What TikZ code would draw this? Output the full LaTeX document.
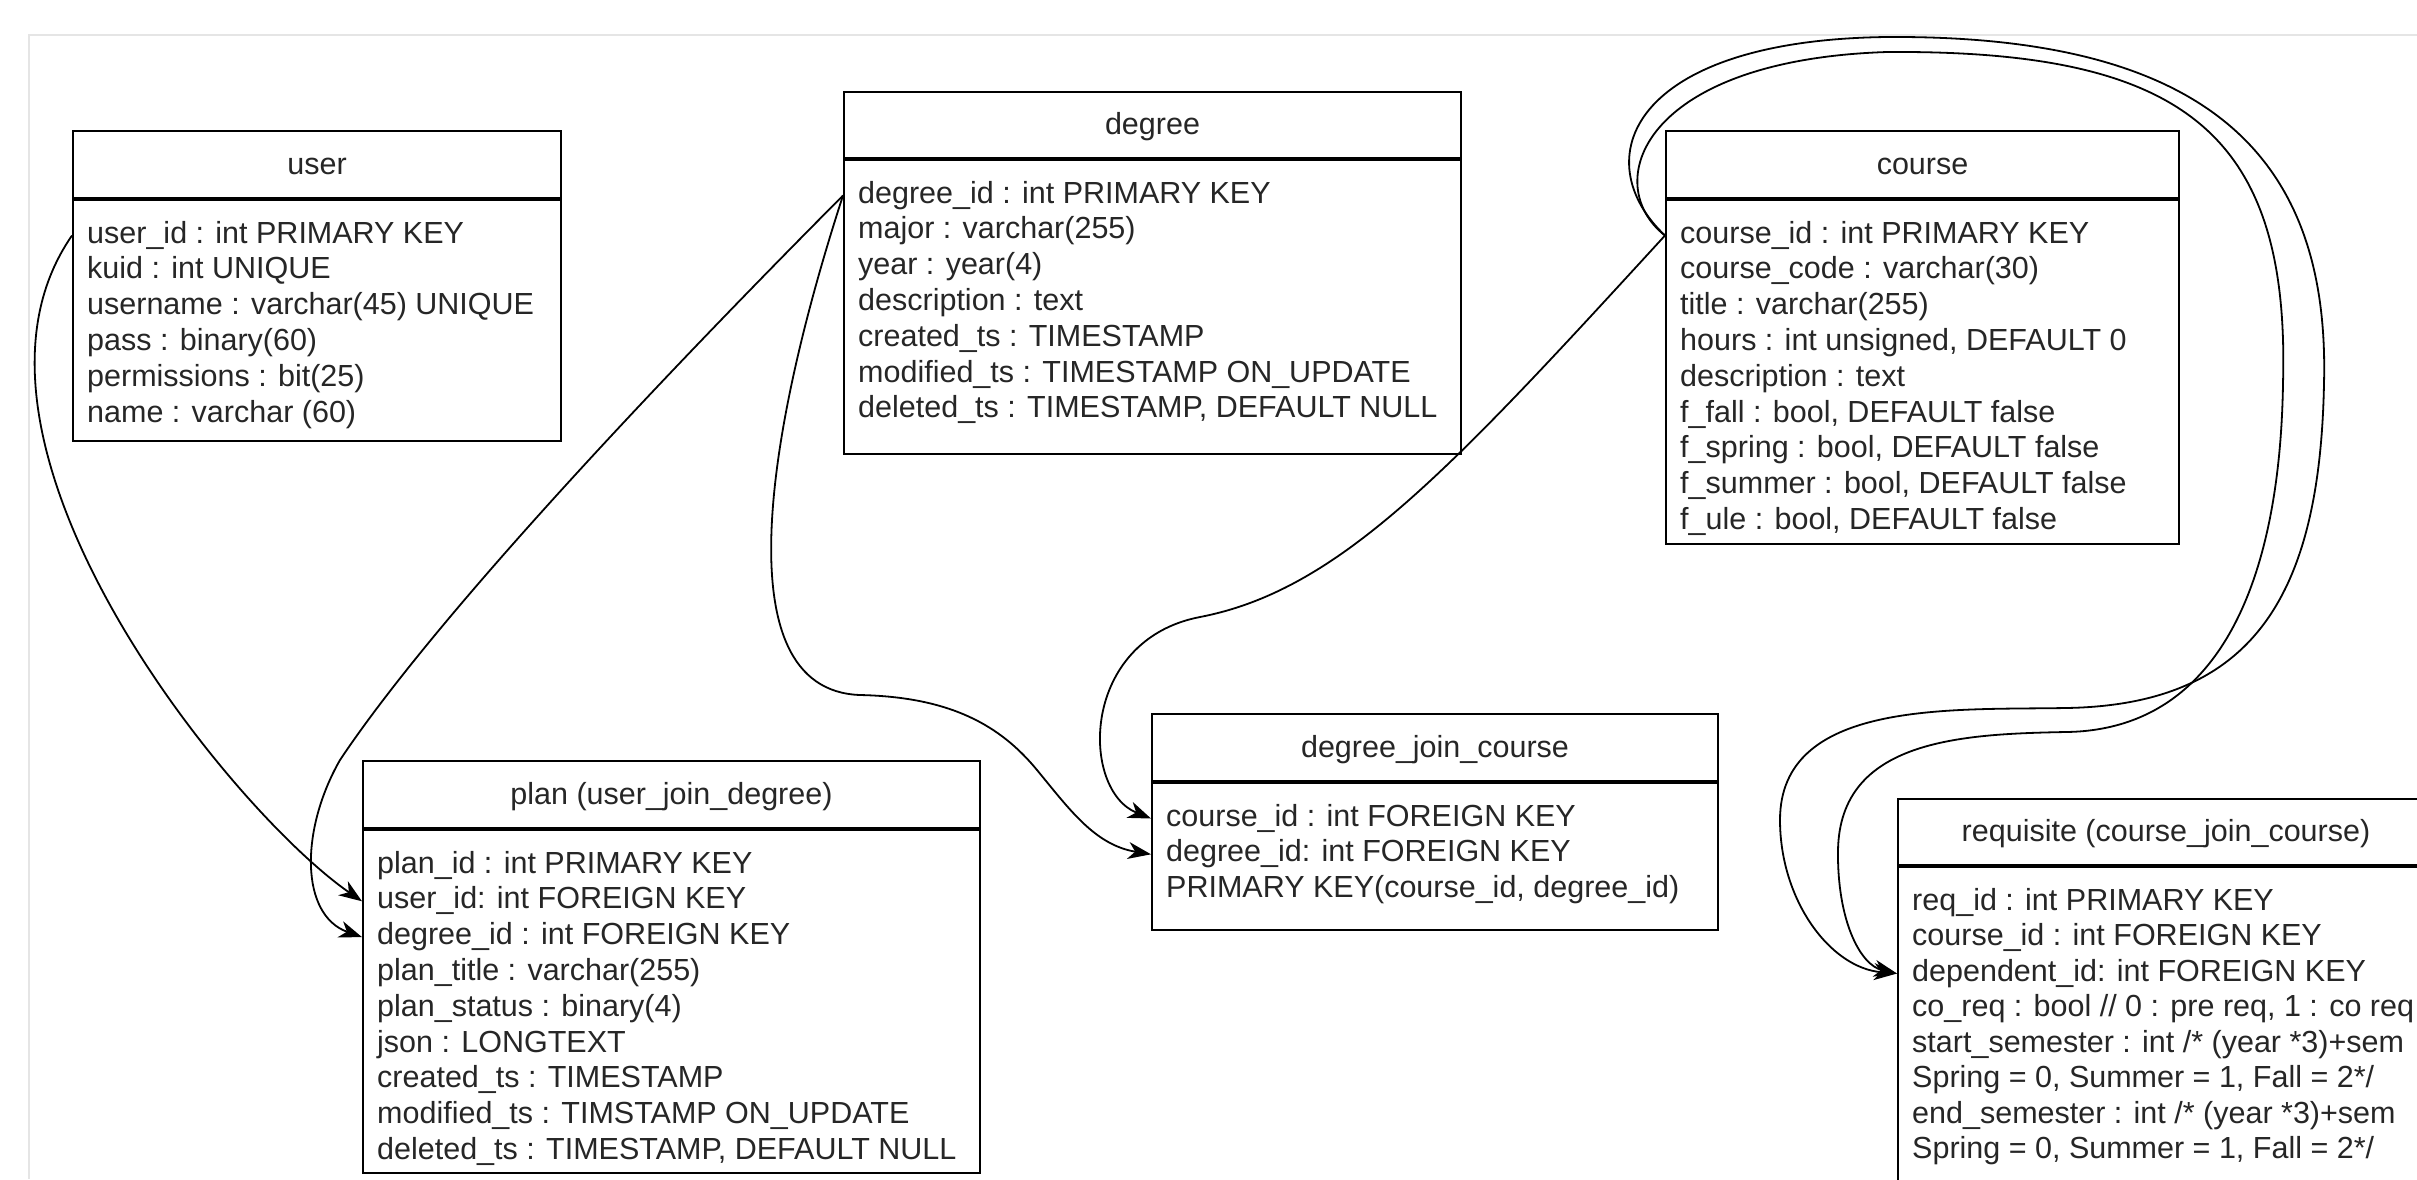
\documentclass[tikz,border=0pt]{standalone}
\usepackage{fontspec}
\setmainfont{Liberation Sans}
\usetikzlibrary{arrows.meta,calc}

\begin{document}
\begin{tikzpicture}[x=1pt,y=-1pt,
    every node/.style={font=\fontsize{30.5}{36}\selectfont, text=black!85},
    tblhead/.style={draw, line width=2pt, inner sep=0pt, minimum height=67pt, text height=24pt, text depth=5pt, anchor=north west},
    tblbody/.style={draw, line width=2pt, inner sep=0pt, anchor=north west},
    field/.style={anchor=base west, inner sep=0pt, text height=22pt, text depth=7pt},
    fk/.style={line width=1.8pt, -{Stealth[length=23pt,width=17pt,inset=7pt]}}]
  \useasboundingbox (0,0) rectangle (2417,1179);
  \fill[white] (0,0) rectangle (2417,1179);
  \clip (0,0) rectangle (2417,1179);
  \draw[black!10, line width=2pt] (29,1179) -- (29,35) -- (2417,35);

  \node[tblhead, minimum width=488pt] (user) at (72,130) {user};
  \node[tblbody, minimum width=488pt, minimum height=241pt] (userb) at (user.south west) {};
  \foreach \fld [count=\i] in {user\_id : int PRIMARY KEY, kuid : int UNIQUE, username : varchar(45) UNIQUE,
      pass : binary(60), permissions : bit(25), name : varchar (60)}
    \node[field] (user-\i) at ($(userb.north west)+(15,{44+35.8*(\i-1)})$) {\fld};

  \node[tblhead, minimum width=617pt, minimum height=66pt] (degree) at (843,91) {degree};
  \node[tblbody, minimum width=617pt, minimum height=294pt] (degreeb) at (degree.south west) {};
  \foreach \fld [count=\i] in {degree\_id : int PRIMARY KEY, major : varchar(255), year : year(4), description : text,
      created\_ts : TIMESTAMP, modified\_ts : TIMESTAMP ON\_UPDATE, {deleted\_ts : TIMESTAMP, DEFAULT NULL}}
    \node[field] (degree-\i) at ($(degreeb.north west)+(15,{44+35.8*(\i-1)})$) {\fld};

  \node[tblhead, minimum width=513pt] (course) at (1665,130) {course};
  \node[tblbody, minimum width=513pt, minimum height=344pt] (courseb) at (course.south west) {};
  \foreach \fld [count=\i] in {course\_id : int PRIMARY KEY, course\_code : varchar(30), title : varchar(255),
      {hours : int unsigned, DEFAULT 0}, description : text, {f\_fall : bool, DEFAULT false},
      {f\_spring : bool, DEFAULT false}, {f\_summer : bool, DEFAULT false}, {f\_ule : bool, DEFAULT false}}
    \node[field] (course-\i) at ($(courseb.north west)+(15,{44+35.8*(\i-1)})$) {\fld};

  \node[tblhead, minimum width=617pt] (plan) at (362,760) {plan (user\_join\_degree)};
  \node[tblbody, minimum width=617pt, minimum height=343pt] (planb) at (plan.south west) {};
  \foreach \fld [count=\i] in {plan\_id : int PRIMARY KEY, user\_id: int FOREIGN KEY, degree\_id : int FOREIGN KEY,
      plan\_title : varchar(255), plan\_status : binary(4), json : LONGTEXT, created\_ts : TIMESTAMP,
      modified\_ts : TIMSTAMP ON\_UPDATE, {deleted\_ts : TIMESTAMP, DEFAULT NULL}}
    \node[field] (plan-\i) at ($(planb.north west)+(15,{44+35.8*(\i-1)})$) {\fld};

  \node[tblhead, minimum width=566pt] (djc) at (1151,713) {degree\_join\_course};
  \node[tblbody, minimum width=566pt, minimum height=147pt] (djcb) at (djc.south west) {};
  \foreach \fld [count=\i] in {course\_id : int FOREIGN KEY, degree\_id: int FOREIGN KEY,
      {PRIMARY KEY(course\_id, degree\_id)}}
    \node[field] (djc-\i) at ($(djcb.north west)+(15,{44+35.8*(\i-1)})$) {\fld};

  \node[tblhead, minimum width=536pt, minimum height=66pt] (req) at (1897,798) {requisite (course\_join\_course)};
  \node[tblbody, minimum width=536pt, minimum height=400pt] (reqb) at (req.south west) {};
  \foreach \fld [count=\i] in {req\_id : int PRIMARY KEY, course\_id : int FOREIGN KEY, dependent\_id: int FOREIGN KEY,
      {co\_req : bool // 0 : pre req, 1 : co req}, start\_semester : int /* (year *3)+sem,
      {Spring = 0, Summer = 1, Fall = 2*/}, end\_semester : int /* (year *3)+sem, {Spring = 0, Summer = 1, Fall = 2*/}}
    \node[field] (req-\i) at ($(reqb.north west)+(15,{44+35.5*(\i-1)})$) {\fld};

  \draw[fk] (userb.west |- user-1.west) .. controls (-70,440) and (230,810) .. (planb.west |- plan-2.west);
  \draw[fk] (degreeb.west |- degree-1.west) .. controls (600,440) and (420,640) .. (340,760)
    .. controls (300,830) and (300,915) .. (planb.west |- plan-3.west);
  \draw[fk] (degreeb.west |- degree-1.west) .. controls (770,420) and (720,690) .. (860,695)
    .. controls (950,697) and (1000,725) .. (1037,770) .. controls (1070,810) and (1095,845) .. (djcb.west |- djc-2.west);
  \draw[fk] (courseb.west |- course-1.west) .. controls (1450,470) and (1340,590) .. (1200,617)
    .. controls (1080,640) and (1080,790) .. (djcb.west |- djc-1.west);
  \draw[fk] (courseb.west |- course-1.west) .. controls (1585,160) and (1630,40) .. (1887,37)
    .. controls (2200,35) and (2330,150) .. (2324,383) .. controls (2320,600) and (2250,705) .. (2066,708)
    .. controls (1950,710) and (1780,700) .. (1780,820) .. controls (1780,900) and (1830,968) .. (reqb.west |- req-3.west);
  \draw[fk] (courseb.west |- course-1.west) .. controls (1600,185) and (1640,60) .. (1887,52)
    .. controls (2180,50) and (2290,130) .. (2283,383) .. controls (2280,580) and (2220,730) .. (2066,732)
    .. controls (1960,734) and (1840,740) .. (1838,850) .. controls (1837,920) and (1860,965) .. (reqb.west |- req-3.west);
\end{tikzpicture}
\end{document}
